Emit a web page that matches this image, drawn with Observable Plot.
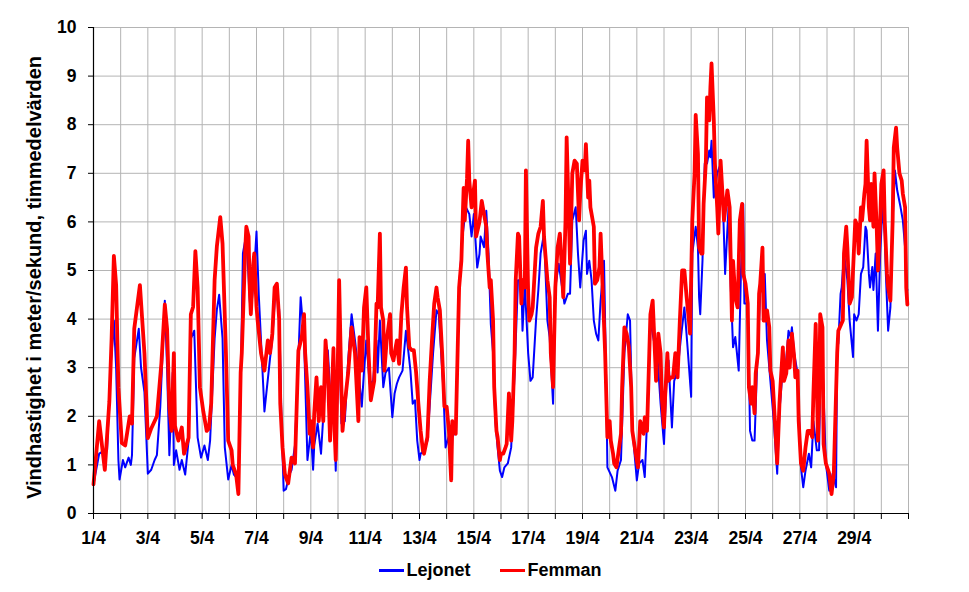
<!DOCTYPE html>
<html><head><meta charset="utf-8">
<script src="https://cdn.jsdelivr.net/npm/d3@7"></script>
<script src="https://cdn.jsdelivr.net/npm/@observablehq/plot@0.6"></script>
<style>
body{margin:0;background:#fff;font-family:"Liberation Sans",Arial,sans-serif;}
#legend{display:flex;justify-content:center;gap:30px;font-weight:bold;font-size:18px;padding-left:12px;margin-top:8px;color:#000;}
.item{display:flex;align-items:center;}
.sw{display:inline-block;width:25px;height:3px;margin-right:2px;}
</style></head><body><div id="chart"></div><div id="legend"></div>
<script>
// Wind speed (m/s), hourly means, April; [hour since 1/4 00:00, value]
const femman = [[0,0.6],[5,1.9],[10,0.9],[14,2.3],[16,3.6],[18,5.3],[20,4.7],[22,2.6],[25,1.45],[28,1.4],[32,2.0],[34,1.85],[36,3.8],[41,4.7],[45,3.3],[48,1.55],[51,1.75],[56,2.0],[60,3.1],[63,4.3],[65,3.8],[67,2.2],[69,1.7],[71,3.3],[72,1.8],[75,1.5],[78,1.77],[80,1.23],[84,1.56],[86,4.1],[88,4.25],[90,5.4],[92,4.65],[94,2.6],[97,2.1],[100,1.7],[102,1.75],[104,2.27],[107,4.8],[109,5.5],[112,6.1],[114,5.55],[117,3.3],[119,1.5],[122,1.3],[123,1.0],[126,0.8],[128,0.4],[130,2.9],[131,3.3],[134,5.4],[135,5.9],[137,5.7],[138,4.65],[139,4.1],[141,5.1],[142,5.35],[144,4.25],[145,3.97],[148,3.3],[151,2.94],[154,3.56],[156,3.3],[158,3.7],[160,4.65],[162,4.73],[164,4.0],[165,2.26],[167,1.36],[169,0.82],[170,0.74],[172,0.62],[175,1.15],[178,1.03],[181,3.35],[184,3.63],[186,4.1],[187,3.3],[189,2.6],[191,1.64],[192,1.9],[194,1.36],[195,2.06],[197,2.8],[199,1.9],[201,2.6],[203,1.9],[205,3.56],[207,2.94],[209,1.5],[212,3.4],[213,1.7],[214,1.1],[216,3.36],[217,4.8],[219,2.6],[220,1.7],[222,2.26],[225,2.9],[228,3.83],[231,3.3],[234,1.9],[235,3.63],[237,2.94],[239,4.24],[241,4.65],[243,3.3],[245,2.33],[248,2.73],[250,4.32],[251,4.24],[253,5.76],[254,4.24],[256,3.97],[257,2.94],[259,3.56],[262,4.1],[263,3.3],[265,3.15],[266,3.3],[268,3.56],[270,3.08],[272,4.1],[274,4.65],[276,5.06],[277,4.24],[279,3.42],[281,3.36],[283,3.36],[285,2.9],[287,2.26],[289,1.7],[291,1.3],[292,1.23],[295,1.57],[297,2.73],[299,3.56],[301,4.32],[303,4.65],[304,4.45],[306,4.18],[308,3.3],[310,2.2],[312,2.2],[314,1.7],[316,0.68],[317,1.9],[320,1.64],[323,4.65],[325,5.2],[327,6.7],[328,6.03],[330,6.9],[331,7.67],[332,6.85],[334,6.3],[335,6.5],[337,6.85],[338,5.7],[340,5.9],[341,6.0],[343,6.43],[345,6.16],[347,5.9],[348,5.34],[350,4.65],[351,4.8],[353,3.97],[354,2.6],[356,1.7],[357,1.57],[359,1.1],[360,1.23],[362,1.23],[364,1.36],[365,1.43],[367,2.47],[369,1.5],[370,1.9],[372,3.3],[373,4.8],[375,5.76],[376,5.7],[378,4.32],[379,4.8],[381,4.65],[382,7.06],[384,4.52],[385,3.97],[387,4.1],[388,4.24],[391,5.47],[393,5.76],[395,5.9],[397,6.43],[398,5.7],[401,4.8],[403,4.45],[404,3.3],[406,2.6],[408,4.65],[410,5.47],[412,5.76],[413,5.35],[415,4.45],[417,6.03],[418,7.74],[420,6.03],[421,5.14],[423,7.0],[425,7.26],[427,7.2],[429,6.03],[430,6.58],[432,7.26],[434,7.06],[435,7.6],[437,6.5],[438,6.85],[439,6.3],[442,5.9],[443,4.73],[445,4.8],[447,5.07],[448,5.76],[450,4.52],[452,3.3],[454,1.57],[456,1.9],[457,1.5],[459,1.23],[460,1.03],[462,0.95],[464,1.3],[466,1.64],[467,2.6],[469,3.83],[471,3.7],[473,3.42],[475,2.6],[476,1.7],[479,1.23],[481,0.95],[483,1.9],[486,1.64],[487,1.98],[489,1.7],[491,3.3],[492,4.1],[494,4.38],[496,3.3],[497,2.73],[499,3.7],[501,3.3],[502,2.4],[504,1.77],[505,2.4],[507,3.3],[508,2.73],[510,2.8],[512,2.8],[514,3.3],[516,2.8],[518,3.97],[520,5.0],[522,5.0],[524,4.45],[526,3.97],[527,3.7],[529,6.03],[531,7.0],[532,8.2],[534,7.4],[535,5.47],[537,5.35],[538,5.35],[539,6.37],[541,7.26],[542,8.56],[544,8.09],[545,8.77],[546,9.26],[548,8.09],[549,7.2],[551,6.3],[552,5.76],[554,7.26],[555,6.85],[557,6.03],[560,6.65],[562,6.3],[564,3.97],[565,5.2],[567,4.45],[569,4.24],[571,6.03],[573,6.37],[574,4.93],[576,4.73],[578,4.32],[579,2.6],[581,2.26],[582,2.6],[584,2.06],[585,2.88],[587,3.3],[588,4.52],[589,4.73],[591,5.47],[592,3.97],[594,3.97],[595,4.18],[597,3.83],[598,2.94],[600,2.73],[602,1.9],[604,1.03],[606,2.26],[607,2.67],[609,3.42],[610,2.73],[612,2.88],[614,3.56],[615,3.0],[617,3.7],[619,3.22],[620,2.8],[622,2.94],[623,1.9],[625,1.03],[627,0.88],[629,1.36],[631,1.7],[633,1.7],[635,1.57],[636,2.47],[638,3.9],[640,1.5],[641,2.26],[642,4.1],[644,3.83],[645,1.43],[647,1.03],[650,0.82],[652,0.4],[654,0.82],[657,3.3],[658,3.76],[662,3.97],[663,5.35],[665,5.9],[666,5.47],[668,4.32],[670,4.45],[671,5.0],[673,6.03],[675,5.9],[676,5.35],[678,6.3],[679,6.03],[681,6.58],[682,6.78],[683,7.67],[685,6.3],[686,6.03],[687,6.78],[689,5.9],[690,7.0],[692,5.82],[693,5.0],[695,6.03],[696,6.78],[698,7.06],[699,6.03],[701,4.93],[702,4.65],[704,4.38],[706,6.03],[707,7.53],[709,7.94],[710,7.53],[712,7.0],[714,6.85],[715,6.58],[717,6.3],[718,4.65],[719,4.3]];

const lejonet = [[0,0.6],[5,1.23],[10,1.3],[12,1.3],[15,3.0],[17,3.6],[18,3.97],[20,3.0],[22,1.1],[23,0.7],[26,1.1],[28,0.95],[31,1.15],[33,1.0],[34,1.2],[36,3.2],[40,3.8],[42,3.0],[45,2.5],[48,0.82],[51,0.9],[54,1.1],[56,1.2],[59,2.2],[63,4.38],[65,3.0],[67,1.2],[70,2.9],[71,1.0],[73,1.3],[76,0.9],[78,1.1],[81,0.8],[84,1.5],[86,3.6],[89,3.76],[92,1.56],[95,1.15],[98,1.4],[101,1.1],[103,1.5],[107,3.6],[109,4.2],[111,4.5],[114,3.6],[116,1.36],[119,0.7],[122,1.0],[124,0.8],[128,0.7],[130,2.5],[132,5.35],[135,5.75],[138,4.4],[139,4.1],[142,5.0],[144,5.8],[146,4.5],[150,2.6],[151,2.1],[156,3.2],[158,3.6],[161,4.7],[164,4.2],[166,2.0],[168,0.47],[170,0.5],[173,0.8],[175,0.9],[178,1.4],[181,3.2],[183,4.45],[186,3.6],[189,1.1],[192,1.7],[194,0.9],[195,1.4],[198,1.85],[201,1.23],[204,2.4],[207,3.36],[210,2.1],[212,2.5],[214,0.88],[217,3.97],[219,1.85],[222,1.9],[225,3.15],[228,4.1],[231,3.56],[234,2.94],[237,2.2],[239,2.94],[241,3.56],[244,2.67],[247,2.73],[250,3.56],[251,2.9],[253,3.97],[256,2.6],[258,2.9],[261,3.0],[264,1.98],[266,2.47],[268,2.67],[270,2.8],[273,2.94],[276,3.76],[278,3.36],[280,2.94],[282,2.26],[284,2.33],[286,1.5],[288,1.1],[289,1.23],[292,1.3],[295,1.5],[300,3.3],[303,4.18],[305,4.1],[309,2.6],[311,1.36],[314,1.6],[316,0.9],[317,1.57],[320,1.7],[323,4.65],[326,5.7],[329,6.3],[332,6.16],[334,5.7],[336,6.16],[339,5.06],[341,5.34],[342,5.7],[345,5.48],[347,6.23],[349,5.34],[351,3.9],[353,3.3],[355,1.9],[357,1.36],[359,0.88],[361,0.75],[363,0.95],[366,1.03],[369,1.36],[372,2.88],[375,4.8],[378,4.8],[379,3.76],[381,4.73],[384,3.3],[386,2.73],[388,2.8],[391,4.0],[393,4.6],[395,5.35],[398,5.76],[401,3.97],[403,3.63],[406,2.26],[408,4.65],[411,5.14],[414,4.65],[416,4.32],[419,4.52],[421,4.52],[423,6.03],[426,6.3],[428,5.35],[430,4.65],[433,5.62],[435,5.82],[436,4.93],[438,5.2],[440,4.8],[442,3.97],[444,3.7],[446,3.56],[448,4.38],[450,4.93],[451,5.2],[453,2.6],[454,0.95],[458,0.75],[461,0.47],[463,0.88],[466,1.1],[469,3.3],[472,4.1],[474,3.97],[476,1.77],[480,0.68],[482,1.03],[485,1.1],[487,0.75],[489,1.9],[492,3.97],[495,3.56],[498,3.3],[501,2.26],[504,1.43],[506,2.6],[508,3.15],[511,1.77],[513,2.73],[516,2.94],[519,3.63],[522,4.24],[523,3.97],[525,3.36],[528,2.4],[529,5.35],[532,5.9],[534,5.47],[535,4.45],[536,4.1],[538,5.2],[540,7.2],[542,7.2],[544,7.47],[545,7.33],[546,7.67],[548,6.5],[551,7.0],[553,7.13],[556,6.43],[558,4.93],[561,6.3],[563,4.65],[565,3.42],[567,3.63],[570,2.94],[572,5.0],[574,6.37],[575,4.32],[578,4.32],[580,1.7],[582,1.5],[584,1.5],[586,2.88],[589,4.52],[591,4.93],[593,4.93],[595,3.56],[598,2.73],[601,1.9],[604,0.82],[606,2.1],[609,3.0],[611,2.88],[614,3.76],[616,3.63],[617,3.83],[619,3.3],[622,2.88],[625,0.95],[627,0.54],[629,0.88],[632,1.23],[634,0.95],[636,1.9],[639,1.3],[641,1.3],[643,3.83],[647,1.03],[650,0.47],[653,0.82],[656,0.54],[657,3.42],[658,3.5],[660,4.52],[661,4.65],[663,5.35],[666,4.8],[668,3.97],[671,3.22],[672,4.1],[674,3.97],[676,4.1],[678,4.93],[680,5.07],[682,5.9],[683,5.82],[685,4.93],[686,4.65],[688,5.07],[689,4.6],[691,5.35],[693,3.76],[695,5.35],[697,6.3],[699,5.76],[700,4.93],[702,3.76],[704,4.24],[706,6.03],[708,7.06],[710,6.65],[713,6.3],[715,6.03],[717,5.47],[718,4.65],[719,4.6]];

const dayTicks = d3.range(0, 31);            // day offsets from 1/4
const dayLabels = ["1/4","3/4","5/4","7/4","9/4","11/4","13/4","15/4","17/4","19/4","21/4","23/4","25/4","27/4","29/4"];
const yTicks = d3.range(0, 11);
const yTitle = "Vindhastighet i meter/sekund, timmedelvärden";
const series = [{name:"Lejonet", color:"#0000ff"},{name:"Femman", color:"#ff0000"}];

const fmtX = d => (d % 2 === 0 && d / 2 < dayLabels.length) ? dayLabels[d / 2] : "";

const chart = Plot.plot({
  width: 969, height: 552,
  marginLeft: 93, marginRight: 61, marginTop: 27, marginBottom: 39,
  style: {fontFamily: "'Liberation Sans', Arial, sans-serif", fontWeight: "bold", fontSize: "17.5px", color: "#000", background: "#fff"},
  x: {domain: [0, 30]},
  y: {domain: [0, 10]},
  marks: [
    Plot.gridX(dayTicks, {stroke: "#b4b4b4", strokeOpacity: 1, strokeWidth: 1}),
    Plot.gridY(yTicks, {stroke: "#b4b4b4", strokeOpacity: 1, strokeWidth: 1}),
    Plot.line(lejonet, {x: d => d[0] / 24, y: d => d[1], stroke: series[0].color, strokeWidth: 2, strokeLinejoin: "round"}),
    Plot.line(femman, {x: d => d[0] / 24, y: d => d[1], stroke: series[1].color, strokeWidth: 3.8, strokeLinejoin: "round"}),
    Plot.ruleX([0], {stroke: "#000", strokeWidth: 1.2}),
    Plot.ruleY([0], {stroke: "#000", strokeWidth: 1.2}),
    Plot.axisX(dayTicks, {tickFormat: fmtX, tickSize: 6, tickPadding: 12, label: null, stroke: "#000"}),
    Plot.axisY(yTicks, {tickSize: 5, tickPadding: 12, label: null, stroke: "#000"}),
    Plot.text([yTitle], {frameAnchor: "left", rotate: -90, dx: -59, dy: 7, textAnchor: "middle", fontSize: 20, fontWeight: "bold", fill: "#000"})
  ]
});
document.getElementById("chart").appendChild(chart);

const legend = document.getElementById("legend");
for (const s of series) {
  const it = document.createElement("div");
  it.className = "item";
  it.innerHTML = `<span class="sw" style="background:${s.color}"></span><span>${s.name}</span>`;
  legend.appendChild(it);
}
</script></body></html>
